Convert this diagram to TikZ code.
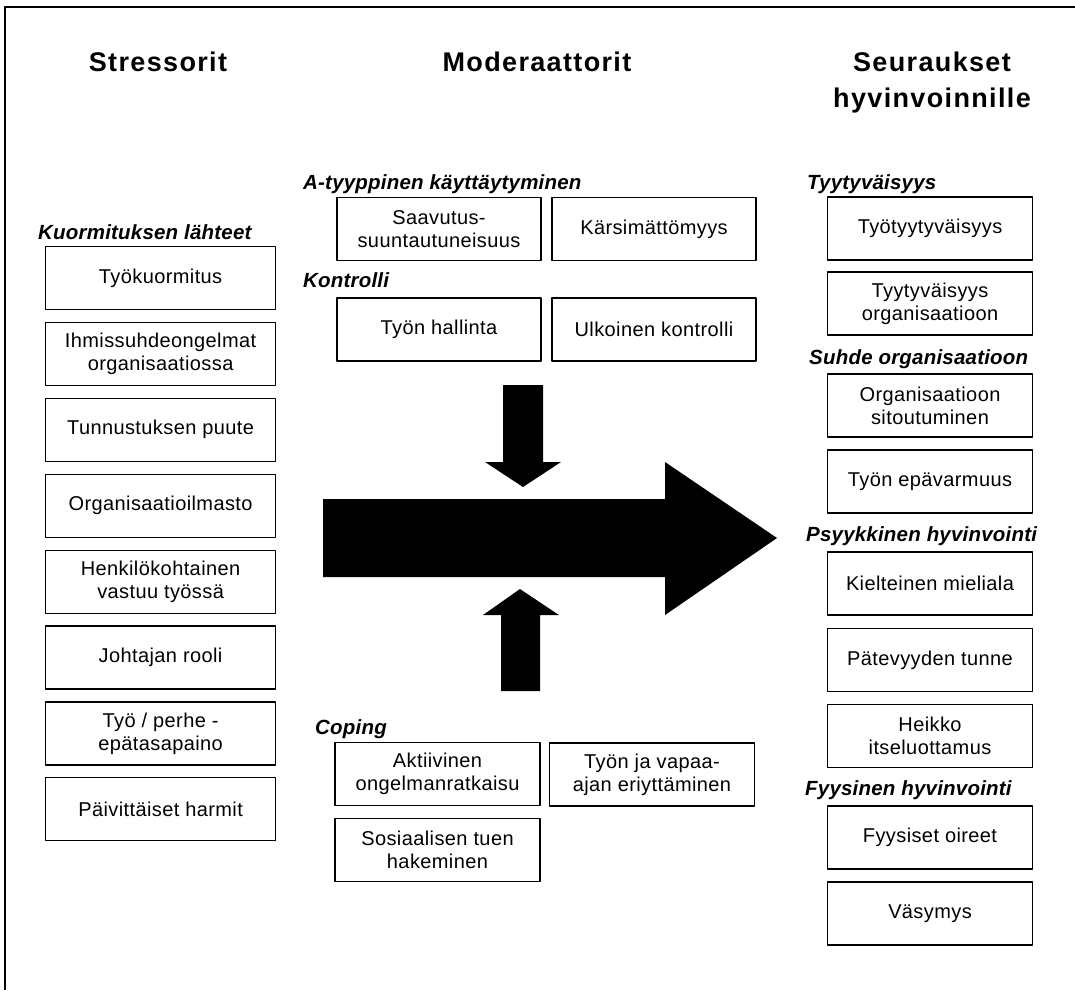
\documentclass[tikz,border=0pt]{standalone}
\usepackage{fontspec}
\setmainfont{Liberation Sans}
\tikzset{
  box/.style={draw, line width=1.2pt, minimum height=63pt, inner sep=0pt, align=center, font=\fontsize{20}{23}\selectfont\addfontfeature{LetterSpace=2}},
  colhead/.style={font=\fontsize{27}{32}\selectfont\bfseries\addfontfeature{LetterSpace=5}, inner sep=0pt, anchor=base},
  grouplabel/.style={font=\fontsize{20.5}{24}\selectfont\bfseries\itshape\addfontfeature{LetterSpace=1}, inner sep=0pt, anchor=base west},
}
\begin{document}
\begin{tikzpicture}[x=1pt, y=-1pt, line join=round]
	\useasboundingbox (0,0) rectangle (1075,990);
	% frame, only its left and top edges show
	\draw[line width=1.2pt] (5,990) -- (5,7) -- (1075,7);
	% column heads
	\node[colhead] (h1) at (158,71) {Stressorit};
	\node[colhead] (h2) at (537,71) {Moderaattorit};
	\node[colhead] (h3) at (932,71) {Seuraukset};
	\node[colhead] (h3b) at (932,107) {hyvinvoinnille};
	% stressors
	\node[grouplabel] (g1) at (38,239) {Kuormituksen lähteet};
	\foreach \txt [count=\i] in {Työkuormitus, {Ihmissuhdeongelmat\\organisaatiossa}, Tunnustuksen puute, Organisaatioilmasto, {Henkilökohtainen\\vastuu työssä}, Johtajan rooli, {Työ / perhe -\\epätasapaino}, Päivittäiset harmit}
		\node[box, minimum width=230pt] (s\i) at (160.6,{278+75.9*(\i-1)}) {\txt};
	% moderators
	\node[grouplabel] (g2) at (303,189) {A-tyyppinen käyttäytyminen};
	\node[box, minimum width=204pt] (a1) at (439,229) {Saavutus-\\suuntautuneisuus};
	\node[box, minimum width=204pt] (a2) at (654,229) {Kärsimättömyys};
	\node[grouplabel] (g3) at (303,287) {Kontrolli};
	\node[box, minimum width=204pt] (k1) at (439,329.5) {Työn hallinta};
	\node[box, minimum width=204pt] (k2) at (654,329.5) {Ulkoinen kontrolli};
	\node[grouplabel] (g4) at (315,734) {Coping};
	\node[box, minimum width=205pt] (c1) at (437.5,774) {Aktiivinen\\ongelmanratkaisu};
	\node[box, minimum width=205pt] (c2) at (652,774.5) {Työn ja vapaa-\\ajan eriyttäminen};
	\node[box, minimum width=205pt] (c3) at (437.5,850) {Sosiaalisen tuen\\hakeminen};
	% outcomes
	\node[grouplabel] (g5) at (807,189) {Tyytyväisyys};
	\node[box, minimum width=205pt] (r1) at (930,228.5) {Työtyytyväisyys};
	\node[box, minimum width=205pt] (r2) at (930,303.5) {Tyytyväisyys\\organisaatioon};
	\node[grouplabel] (g6) at (809,364) {Suhde organisaatioon};
	\node[box, minimum width=205pt] (r3) at (930,405.5) {Organisaatioon\\sitoutuminen};
	\node[box, minimum width=205pt] (r4) at (930,481.5) {Työn epävarmuus};
	\node[grouplabel] (g7) at (806,541) {Psyykkinen hyvinvointi};
	\node[box, minimum width=205pt] (r5) at (930,583.5) {Kielteinen mieliala};
	\node[box, minimum width=205pt] (r6) at (930,660) {Pätevyyden tunne};
	\node[box, minimum width=205pt] (r7) at (930,736) {Heikko\\itseluottamus};
	\node[grouplabel] (g8) at (805,795) {Fyysinen hyvinvointi};
	\node[box, minimum width=205pt] (r8) at (930,837.5) {Fyysiset oireet};
	\node[box, minimum width=205pt] (r9) at (930,913.5) {Väsymys};
	% block arrows
	\fill (323,499) -- (665,499) -- (665,462) -- (777,538) -- (665,615) -- (665,577) -- (323,577) -- cycle;
	\fill (503,385) -- (543,385) -- (543,462) -- (561,462) -- (523,487) -- (485,462) -- (503,462) -- cycle;
	\fill (501,691) -- (540,691) -- (540,615) -- (559,615) -- (520,589) -- (483,615) -- (501,615) -- cycle;
\end{tikzpicture}
\end{document}
